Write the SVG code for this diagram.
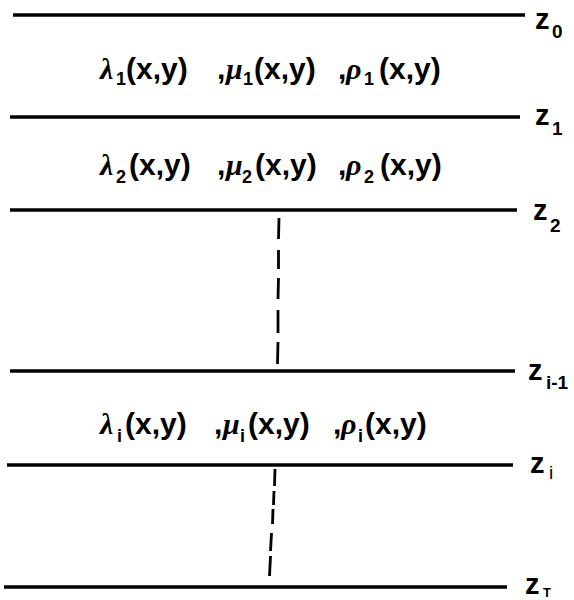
<svg xmlns="http://www.w3.org/2000/svg" width="574" height="600" viewBox="0 0 574 600">
<style>
.ln{stroke:#000;stroke-width:3.5;fill:none;stroke-linecap:butt}
.ds{stroke:#000;stroke-width:2.8;fill:none}
.t{font-family:"Liberation Sans",Arial,sans-serif;font-weight:bold;font-size:30px;fill:#000}
.gr{font-family:"Liberation Serif","Times New Roman",serif;font-style:italic;font-weight:bold;font-size:30px}
.sb{font-size:18px}
.z{font-family:"Liberation Sans",Arial,sans-serif;font-weight:bold;font-size:29px;fill:#000}
.zs{font-size:19px}
.zl{font-weight:normal}
</style>
<rect width="574" height="600" fill="#fff"/>
<g id="z0">
<line class="ln" x1="13" y1="15" x2="525" y2="15"/>
<text class="z" x="535" y="29">z<tspan class="zs" x="552" y="38">0</tspan></text>
</g>
<g id="layer1">
<text class="t" y="79"><tspan class="gr" x="100">λ</tspan><tspan class="sb" x="116" y="85">1</tspan><tspan x="126" y="79">(x,y)</tspan><tspan x="217">,</tspan><tspan class="gr" x="226">μ</tspan><tspan class="sb" x="243" y="85">1</tspan><tspan x="254" y="79">(x,y)</tspan><tspan x="338">,</tspan><tspan class="gr" x="346">ρ</tspan><tspan class="sb" x="364" y="85">1</tspan><tspan x="379" y="79">(x,y)</tspan></text>
</g>
<g id="z1">
<line class="ln" x1="10" y1="117" x2="520" y2="117"/>
<text class="z" x="535" y="125">z<tspan class="zs" x="552" y="135">1</tspan></text>
</g>
<g id="layer2">
<text class="t" y="175"><tspan class="gr" x="100">λ</tspan><tspan class="sb" x="116" y="183">2</tspan><tspan x="129" y="175">(x,y)</tspan><tspan x="217">,</tspan><tspan class="gr" x="226">μ</tspan><tspan class="sb" x="242" y="183">2</tspan><tspan x="255" y="175">(x,y)</tspan><tspan x="338">,</tspan><tspan class="gr" x="346">ρ</tspan><tspan class="sb" x="364" y="183">2</tspan><tspan x="380" y="175">(x,y)</tspan></text>
</g>
<g id="z2">
<line class="ln" x1="10" y1="210" x2="517" y2="210"/>
<text class="z" x="533" y="220">z<tspan class="zs" x="550" y="232">2</tspan></text>
</g>
<g id="zim1">
<line class="ln" x1="10" y1="371" x2="515" y2="371"/>
<text class="z" x="528" y="380">z<tspan class="zs" x="546" y="389">i-1</tspan></text>
</g>
<g id="layeri">
<text class="t" y="434"><tspan class="gr" x="100">λ</tspan><tspan class="sb" x="117" y="442">i</tspan><tspan x="125" y="434">(x,y)</tspan><tspan x="214">,</tspan><tspan class="gr" x="223">μ</tspan><tspan class="sb" x="240" y="442">i</tspan><tspan x="248" y="434">(x,y)</tspan><tspan x="333">,</tspan><tspan class="gr" x="341">ρ</tspan><tspan class="sb" x="358" y="442">i</tspan><tspan x="365" y="434">(x,y)</tspan></text>
</g>
<g id="zi">
<line class="ln" x1="7" y1="465" x2="513" y2="465"/>
<text class="z" x="530" y="473">z<tspan class="zs zl" x="549" y="479">i</tspan></text>
</g>
<g id="zT">
<line class="ln" x1="4" y1="587" x2="507" y2="587"/>
<text class="z" x="525" y="594">z<tspan class="zs" style="font-size:13px" x="543" y="597">T</tspan></text>
</g>
<g id="connectors">
<line class="ds" x1="279" y1="218" x2="278.5" y2="239"/>
<line class="ds" x1="278.5" y1="250" x2="278.5" y2="269"/>
<line class="ds" x1="278.5" y1="278" x2="278" y2="299"/>
<line class="ds" x1="278" y1="310" x2="278" y2="333"/>
<line class="ds" x1="278" y1="342" x2="277.5" y2="364"/>
<line class="ds" x1="275" y1="469" x2="274.5" y2="486"/>
<line class="ds" x1="274" y1="491" x2="273.5" y2="505"/>
<line class="ds" x1="273" y1="509" x2="272.5" y2="524"/>
<line class="ds" x1="271.5" y1="533" x2="270.5" y2="551"/>
<line class="ds" x1="270.5" y1="556" x2="269.5" y2="576"/>
</g>
</svg>
